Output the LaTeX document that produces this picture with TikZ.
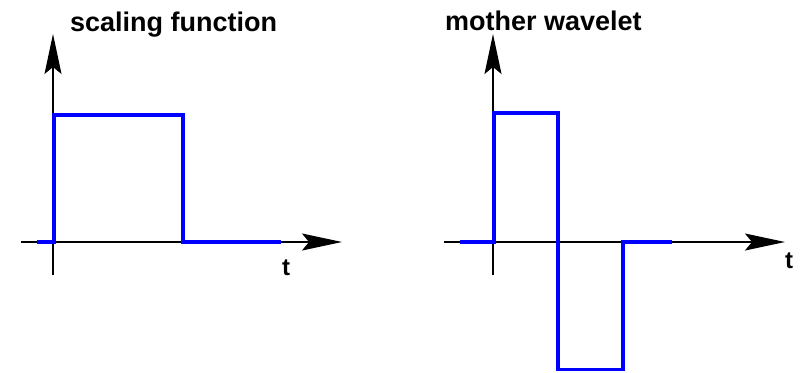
\documentclass[tikz,border=0pt]{standalone}
\usepackage{fontspec}
\setmainfont{Liberation Sans}
\usetikzlibrary{arrows.meta}
\begin{document}
\begin{tikzpicture}[x=1bp,y=-1bp,
  axis/.style={draw=black,line width=1.6bp,-{Stealth[length=40bp,width=17bp,inset=7bp]}},
  sig/.style={draw=blue,line width=3.4bp,line join=miter},
  lbl/.style={font=\fontsize{27bp}{30bp}\selectfont\bfseries,inner sep=0pt},
  tlbl/.style={font=\fontsize{24bp}{28bp}\selectfont\bfseries,inner sep=0pt}]
\useasboundingbox (0,0) rectangle (800,372);
% left plot
\coordinate (lxs) at (21,242);
\coordinate (lxe) at (342,242);
\coordinate (lys) at (53,275);
\coordinate (lye) at (53,34);
\path[axis] (lxs) -- (lxe);
\path[axis] (lys) -- (lye);
\coordinate (l0) at (37,242);
\coordinate (l1) at (54,242);
\coordinate (l2) at (54,115);
\coordinate (l3) at (183,115);
\coordinate (l4) at (183,242);
\coordinate (l5) at (281,242);
\path[sig] (l0) -- (l1) -- (l2) -- (l3) -- (l4) -- (l5);
\node[lbl,anchor=base west] (ltitle) at (70,31) {scaling function};
\node[tlbl,anchor=base west] (lt) at (282,275) {t};
% right plot
\coordinate (rxs) at (444,242);
\coordinate (rxe) at (785,242);
\coordinate (rys) at (493,275);
\coordinate (rye) at (493,34);
\path[axis] (rxs) -- (rxe);
\path[axis] (rys) -- (rye);
\coordinate (r0) at (460,242);
\coordinate (r1) at (494,242);
\coordinate (r2) at (494,113);
\coordinate (r3) at (558,113);
\coordinate (r4) at (558,369.5);
\coordinate (r5) at (623,369.5);
\coordinate (r6) at (623,242);
\coordinate (r7) at (672,242);
\path[sig] (r0) -- (r1) -- (r2) -- (r3) -- (r4) -- (r5) -- (r6) -- (r7);
\node[lbl,anchor=base west] (rtitle) at (445,30) {mother wavelet};
\node[tlbl,anchor=base west] (rt) at (785,268) {t};
\end{tikzpicture}
\end{document}
